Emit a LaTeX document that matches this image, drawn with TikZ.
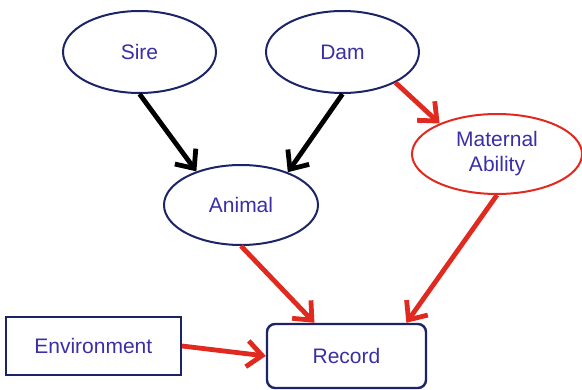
\documentclass[tikz,border=0pt]{standalone}
\usepackage{fontspec}
\setmainfont{Liberation Sans}
\usetikzlibrary{shapes.geometric,arrows.meta}
\definecolor{navy}{HTML}{1C2366}
\definecolor{labelblue}{HTML}{3A2FA6}
\definecolor{arrowred}{HTML}{E02A20}
\begin{document}
\begin{tikzpicture}[x=1pt,y=-1pt,
  every node/.style={font=\fontsize{21}{25}\selectfont, text=labelblue, inner sep=0pt},
  oval/.style={ellipse, draw=navy, line width=2pt, fill=white},
  redoval/.style={ellipse, draw=arrowred, line width=2pt, fill=white},
  box/.style={rectangle, draw=navy, line width=2.4pt, fill=white},
  link/.style={line width=4.8pt, -{Straight Barb[length=15pt,width=26pt]}},
  blacklink/.style={link, draw=black},
  redlink/.style={link, draw=arrowred}]
\useasboundingbox (0,0) rectangle (582,390);

% parents and traits
\node[oval, minimum width=153pt, minimum height=82pt] (sire) at (139.5,52) {Sire};
\node[oval, minimum width=153pt, minimum height=82pt] (dam) at (342.5,52) {Dam};
\node[redoval, minimum width=170pt, minimum height=80pt, align=center] (mat) at (497,154) {Maternal\\Ability};
\node[oval, minimum width=154pt, minimum height=80pt] (animal) at (241,205) {Animal};

% observed record and environment
\node[box, minimum width=175pt, minimum height=58pt] (env) at (93.3,346) {Environment};
\node[box, rounded corners=8pt, minimum width=159pt, minimum height=64pt] (record) at (346.5,356) {Record};

% genetic paths
\draw[blacklink] (sire.south) -- (animal.143);
\draw[blacklink] (dam.south) -- (animal.35);
\draw[redlink] (dam.-30) -- (mat.152);

% contributions to the record
\draw[redlink] (animal.south) -- (record.134);
\draw[redlink] (mat.south) -- (record.29);
\draw[redlink] (env.east) -- (record.west);
\end{tikzpicture}
\end{document}
